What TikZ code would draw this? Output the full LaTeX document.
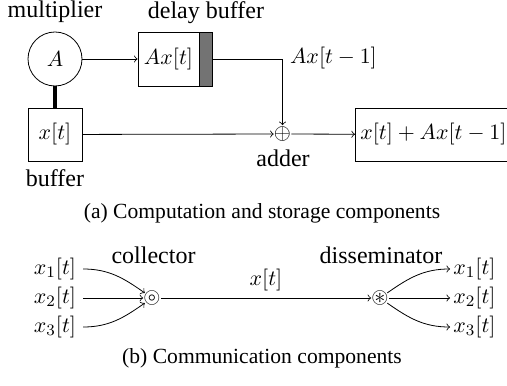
\documentclass[tikz,border=0pt]{standalone}
\usepackage{amsmath}
\usepackage{amssymb}
\usepackage{fontspec}
\setmainfont{Liberation Serif}
\usepackage{tikz}

\begin{document}
\begin{tikzpicture}[x=5pt,y=5pt,
  box/.style={draw,font=\fontsize{11}{13}\selectfont,inner sep=0pt},
  lbl/.style={font=\fontsize{12}{14}\selectfont},
  subcap/.style={font=\fontsize{10.8}{13}\selectfont},
  op/.style={circle,inner sep=-1pt,font=\fontsize{11}{13}\selectfont},
  sig/.style={font=\fontsize{11}{13}\selectfont}]
\useasboundingbox (0,0) rectangle (50.7,38.5);
% (a) calcul et stockage
\node[lbl] (multlbl) at (5.5,37.3) {multiplier};
\node[box,circle,minimum size=27pt] (mult) at (5.5,32.6) {$A$};
\node[box,minimum width=27pt,minimum height=26.5pt] (buf) at (5.5,25.05) {$x[t]$};
\node[lbl] (buflbl) at (5.5,20.7) {buffer};
\draw[line width=2pt] (mult) -- (buf); % liaison epaisse
\node[box,minimum width=30.5pt,minimum height=27pt] (dly) at (16.85,32.6) {$Ax[t]$};
\node[box,fill=black!55,minimum width=6.5pt,minimum height=27pt] (dbar) at (20.55,32.6) {};
\node[lbl] (dlylbl) at (20.6,37.2) {delay buffer};
\coordinate (turn) at (28.25,32.6);
\node[op] (add) at (28.25,25.1) {$\oplus$};
\node[lbl] (addlbl) at (28.3,22.7) {adder};
\node[box,anchor=west,minimum width=78pt,minimum height=26.5pt] (out) at (35.5,25.05) {$x[t]+Ax[t-1]$};
\node[sig,anchor=west] (dlyout) at (28.3,32.7) {$Ax[t-1]$};
\draw[->] (mult) -- (dly);
\draw[->] (dbar) -- (turn) -- (add);
\draw[->] (buf) -- (add);
\draw[->] (add) -- (out);
\node[subcap] (capa) at (26.2,17.2) {(a) Computation and storage components};
% (b) communication
\node[sig] (in1) at (5.5,11.6) {$x_1[t]$};
\node[sig] (in2) at (5.5,8.7) {$x_2[t]$};
\node[sig] (in3) at (5.5,5.8) {$x_3[t]$};
\node[op] (col) at (15.2,8.7) {$\circledcirc$};
\node[lbl] (collbl) at (15.35,13.0) {collector};
\node[op] (dis) at (38.0,8.7) {$\circledast$};
\node[lbl] (dislbl) at (38.1,13.0) {disseminator};
\node[sig,inner sep=1.5pt] (o1) at (47.45,11.6) {$x_1[t]$};
\node[sig,inner sep=1.5pt] (o2) at (47.45,8.7) {$x_2[t]$};
\node[sig,inner sep=1.5pt] (o3) at (47.45,5.8) {$x_3[t]$};
\draw[->] (in1) to[out=0,in=145] (col);
\draw[->] (in2) -- (col);
\draw[->] (in3) to[out=0,in=-145] (col);
\draw[->] (col) -- node[sig,above] {$x[t]$} (dis);
\draw[->] (dis) to[out=35,in=180] (o1);
\draw[->] (dis) -- (o2);
\draw[->] (dis) to[out=-35,in=180] (o3);
\node[subcap] (capb) at (26.2,2.7) {(b) Communication components};
\end{tikzpicture}
\end{document}
